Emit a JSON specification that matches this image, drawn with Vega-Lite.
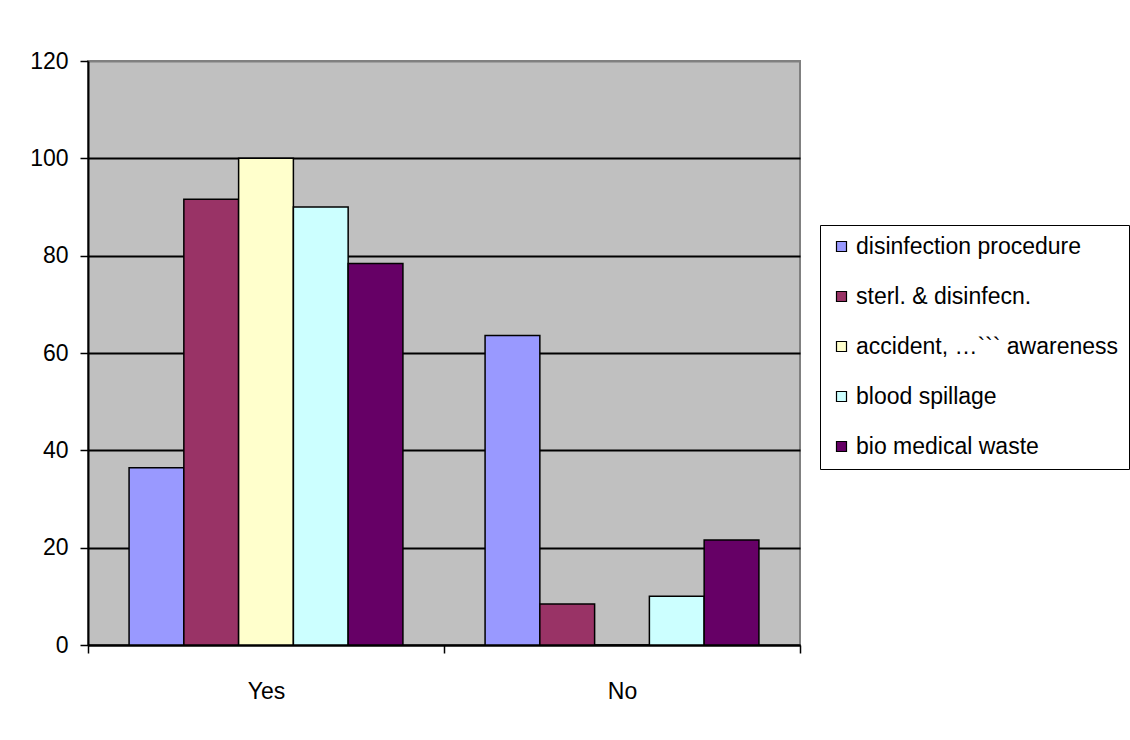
{
  "$schema": "https://vega.github.io/schema/vega-lite/v6.json",
  "width": 712,
  "height": 584,
  "autosize": {"type": "none"},
  "padding": {"left": 88, "top": 61, "right": 330, "bottom": 95},
  "background": "white",
  "data": {
    "values": [
      {"answer": "Yes", "series": "disinfection procedure", "value": 36.4},
      {"answer": "Yes", "series": "sterl. & disinfecn.", "value": 91.6},
      {"answer": "Yes", "series": "accident, …``` awareness", "value": 100},
      {"answer": "Yes", "series": "blood spillage", "value": 90},
      {"answer": "Yes", "series": "bio medical waste", "value": 78.4},
      {"answer": "No", "series": "disinfection procedure", "value": 63.6},
      {"answer": "No", "series": "sterl. & disinfecn.", "value": 8.4},
      {"answer": "No", "series": "accident, …``` awareness", "value": 0},
      {"answer": "No", "series": "blood spillage", "value": 10},
      {"answer": "No", "series": "bio medical waste", "value": 21.6}
    ]
  },
  "mark": {"type": "bar", "stroke": "black", "strokeWidth": 1.5},
  "encoding": {
    "x": {
      "field": "answer",
      "type": "nominal",
      "sort": ["Yes", "No"],
      "scale": {"paddingInner": 0, "paddingOuter": 0},
      "axis": {
        "title": null,
        "labelAngle": 0,
        "tickBand": "extent",
        "tickSize": 8,
        "tickColor": "black",
        "tickWidth": 1.5,
        "domainColor": "black",
        "domainWidth": 2,
        "labelPadding": 27,
        "labelFontSize": 23,
        "labelFont": "Liberation Sans",
        "labelColor": "black",
        "grid": false
      }
    },
    "xOffset": {
      "field": "series",
      "type": "nominal",
      "sort": ["disinfection procedure", "sterl. & disinfecn.", "accident, …``` awareness", "blood spillage", "bio medical waste"],
      "scale": {"paddingInner": 0, "paddingOuter": 0.75}
    },
    "y": {
      "field": "value",
      "type": "quantitative",
      "scale": {"domain": [0, 120], "nice": false},
      "axis": {
        "title": null,
        "values": [0, 20, 40, 60, 80, 100, 120],
        "tickSize": 8,
        "tickColor": "black",
        "tickWidth": 1.5,
        "domainColor": "black",
        "domainWidth": 2,
        "labelPadding": 12,
        "labelFontSize": 23,
        "labelFont": "Liberation Sans",
        "labelColor": "black",
        "grid": true,
        "gridColor": {"condition": {"test": "datum.value == 120", "value": "#808080"}, "value": "black"},
        "gridWidth": 2,
        "gridOpacity": 1
      }
    },
    "color": {
      "field": "series",
      "type": "nominal",
      "scale": {
        "domain": ["disinfection procedure", "sterl. & disinfecn.", "accident, …``` awareness", "blood spillage", "bio medical waste"],
        "range": ["#9999FF", "#993366", "#FFFFCC", "#CCFFFF", "#660066"]
      },
      "legend": {
        "title": null,
        "orient": "none",
        "legendX": 732,
        "legendY": 164,
        "strokeColor": "black",
        "fillColor": "white",
        "padding": 10,
        "symbolType": "square",
        "symbolSize": 100,
        "symbolStrokeColor": "black",
        "symbolStrokeWidth": 1.2,
        "symbolOpacity": 1,
        "labelFontSize": 23,
        "labelFont": "Liberation Sans",
        "labelColor": "black",
        "labelOffset": 3,
        "rowPadding": 26,
        "labelLimit": 400
      }
    }
  },
  "config": {
    "view": {"fill": "#C0C0C0", "stroke": "#808080", "strokeWidth": 2},
    "font": "Liberation Sans"
  }
}
